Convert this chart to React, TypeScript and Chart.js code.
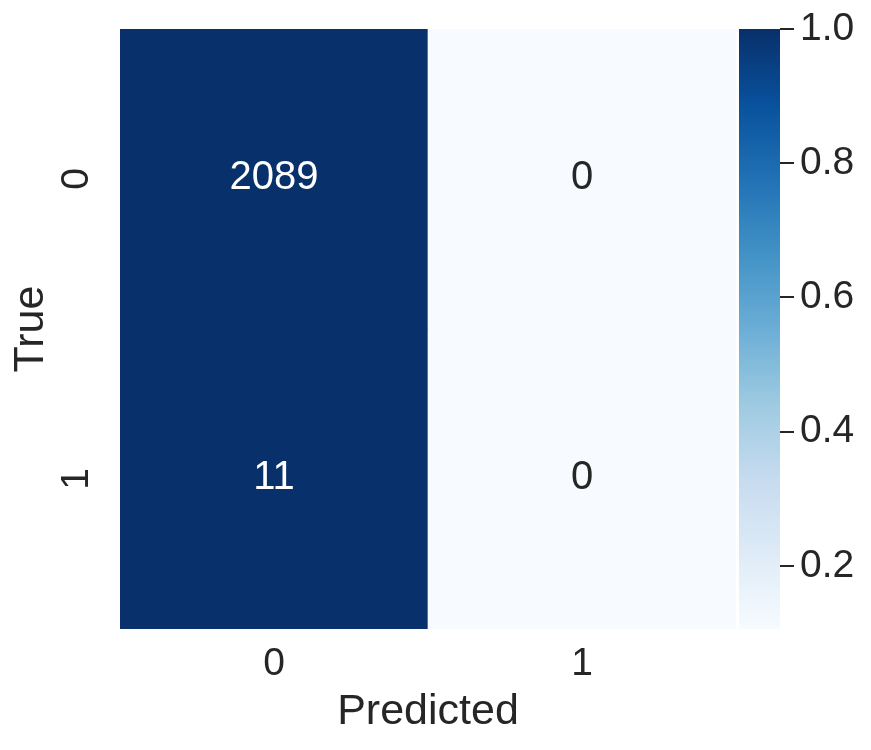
import React, { useEffect, useRef } from 'react';
import { Chart, registerables } from 'chart.js';

Chart.register(...registerables);

// ---- data ----
const predictedLabels = ['0', '1'];
const trueLabels = ['0', '1'];
const countsRow0 = [2089, 0];
const countsRow1 = [11, 0];
const counts = [countsRow0, countsRow1];
const colorbarTicks = [0.2, 0.4, 0.6, 0.8, 1.0];
const colorbarMin = 0.106;
const colorbarMax = 1.0;
const xTitle = 'Predicted';
const yTitle = 'True';

// ---- style ----
const FONT = '"Liberation Sans", Arial, Helvetica, sans-serif';
const TEXT = '#262626';
const BLUES = ['#f7fbff', '#deebf7', '#c6dbef', '#9ecae1', '#6baed6', '#4292c6', '#2171b5', '#08519c', '#08306b'];

function hexToRgb(h: string) {
  const n = parseInt(h.slice(1), 16);
  return [(n >> 16) & 255, (n >> 8) & 255, n & 255];
}
function blues(t: number) {
  const tt = Math.max(0, Math.min(1, t)) * (BLUES.length - 1);
  const i = Math.min(BLUES.length - 2, Math.floor(tt));
  const f = tt - i;
  const a = hexToRgb(BLUES[i]);
  const b = hexToRgb(BLUES[i + 1]);
  const c = a.map((v, k) => Math.round(v + (b[k] - v) * f));
  return `rgb(${c[0]},${c[1]},${c[2]})`;
}
function cellValue(r: number, c: number) {
  const s = counts[r].reduce((a, b) => a + b, 0);
  return s ? counts[r][c] / s : 0;
}
function cellT(r: number, c: number) {
  return (cellValue(r, c) - colorbarMin) / (colorbarMax - colorbarMin);
}

const annotatePlugin = {
  id: 'annotate',
  afterDatasetsDraw(chart: any) {
    const ctx = chart.ctx;
    const size = 40;
    ctx.save();
    ctx.font = `${size}px ${FONT}`;
    ctx.textAlign = 'center';
    ctx.textBaseline = 'alphabetic';
    chart.data.datasets.forEach((_ds: any, r: number) => {
      const meta = chart.getDatasetMeta(r);
      meta.data.forEach((el: any, c: number) => {
        const p = el.getCenterPoint();
        ctx.fillStyle = cellT(r, c) > 0.5 ? '#ffffff' : TEXT;
        ctx.fillText(String(counts[r][c]), p.x, p.y + size * 0.24);
      });
    });
    ctx.restore();
  },
};

function HeatmapChart() {
  const ref = useRef<HTMLCanvasElement | null>(null);
  useEffect(() => {
    if (!ref.current) return;
    const chart = new Chart(ref.current, {
      type: 'bar',
      data: {
        labels: predictedLabels,
        datasets: trueLabels.map((lab, r) => ({
          label: lab,
          data: predictedLabels.map(() => [r, r + 1]) as any,
          backgroundColor: predictedLabels.map((_p, c) => blues(cellT(r, c))),
          borderWidth: 0,
          borderSkipped: false,
          barPercentage: 1,
          categoryPercentage: 1,
        })),
      },
      options: {
        responsive: false,
        animation: false,
        devicePixelRatio: 1,
        layout: { padding: { top: 29, right: 4, left: 0, bottom: 0 } },
        plugins: { legend: { display: false }, tooltip: { enabled: false } },
        scales: {
          x: {
            type: 'category',
            stacked: true,
            grid: { display: false, drawTicks: false },
            border: { display: false },
            ticks: { color: TEXT, font: { family: FONT, size: 39 }, padding: 12, maxRotation: 0 },
            title: { display: true, text: xTitle, color: TEXT, font: { family: FONT, size: 43 }, padding: { top: 0, bottom: 12 } },
            afterFit: (s: any) => { s.height = 121; s.paddingLeft = 0; s.paddingRight = 0; },
          },
          y: {
            type: 'linear',
            min: 0,
            max: trueLabels.length,
            reverse: true,
            grid: { display: false, drawTicks: false },
            border: { display: false },
            afterBuildTicks: (s: any) => { s.ticks = trueLabels.map((_l, i) => ({ value: i + 0.5 })); },
            ticks: {
              color: TEXT,
              font: { family: FONT, size: 39 },
              padding: 32,
              minRotation: 90,
              maxRotation: 90,
              crossAlign: 'center',
              callback: (v: any) => trueLabels[Math.floor(Number(v))],
            },
            title: { display: true, text: yTitle, color: TEXT, font: { family: FONT, size: 43 }, padding: { top: 5, bottom: 0 } },
            afterFit: (s: any) => { s.width = 120; s.paddingTop = 0; s.paddingBottom = 0; },
          },
        },
      } as any,
      plugins: [annotatePlugin],
    });
    return () => chart.destroy();
  }, []);
  return <canvas ref={ref} width={740} height={750} style={{ position: 'absolute', left: 0, top: 0, width: 740, height: 750 }} />;
}

function ColorbarChart() {
  const ref = useRef<HTMLCanvasElement | null>(null);
  useEffect(() => {
    if (!ref.current) return;
    const chart = new Chart(ref.current, {
      type: 'bar',
      data: {
        labels: [''],
        datasets: [
          {
            data: [[colorbarMin, colorbarMax]] as any,
            backgroundColor: (ctx: any) => {
              const ch = ctx.chart;
              const ys = ch.scales && ch.scales.y;
              if (!ch.chartArea || !ys) return BLUES[0];
              const y0 = ys.getPixelForValue(colorbarMin);
              const y1 = ys.getPixelForValue(colorbarMax);
              const g = ch.ctx.createLinearGradient(0, y0, 0, y1);
              BLUES.forEach((c, i) => g.addColorStop(i / (BLUES.length - 1), c));
              return g;
            },
            borderWidth: 0,
            barPercentage: 1,
            categoryPercentage: 1,
          },
        ],
      },
      options: {
        responsive: false,
        animation: false,
        devicePixelRatio: 1,
        layout: { padding: { top: 29, bottom: 121, left: 39, right: 0 } },
        plugins: { legend: { display: false }, tooltip: { enabled: false } },
        scales: {
          x: { display: false },
          y: {
            type: 'linear',
            position: 'right',
            min: colorbarMin,
            max: colorbarMax,
            afterBuildTicks: (s: any) => { s.ticks = colorbarTicks.map((v) => ({ value: v })); },
            grid: { display: true, drawOnChartArea: false, drawTicks: true, tickLength: 14, color: TEXT, lineWidth: 2 },
            border: { display: false },
            ticks: {
              color: TEXT,
              font: { family: FONT, size: 39 },
              padding: 6,
              callback: (v: any) => Number(v).toFixed(1),
            },
            afterFit: (s: any) => { s.width = 91; s.paddingTop = 0; s.paddingBottom = 0; },
          },
        },
      } as any,
    });
    return () => chart.destroy();
  }, []);
  return <canvas ref={ref} width={171} height={750} style={{ position: 'absolute', left: 700, top: 0, width: 171, height: 750 }} />;
}

export default function App() {
  return (
    <div style={{ position: 'fixed', left: 0, top: 0, width: 871, height: 750, background: '#ffffff', overflow: 'hidden' }}>
      <HeatmapChart />
      <ColorbarChart />
    </div>
  );
}
